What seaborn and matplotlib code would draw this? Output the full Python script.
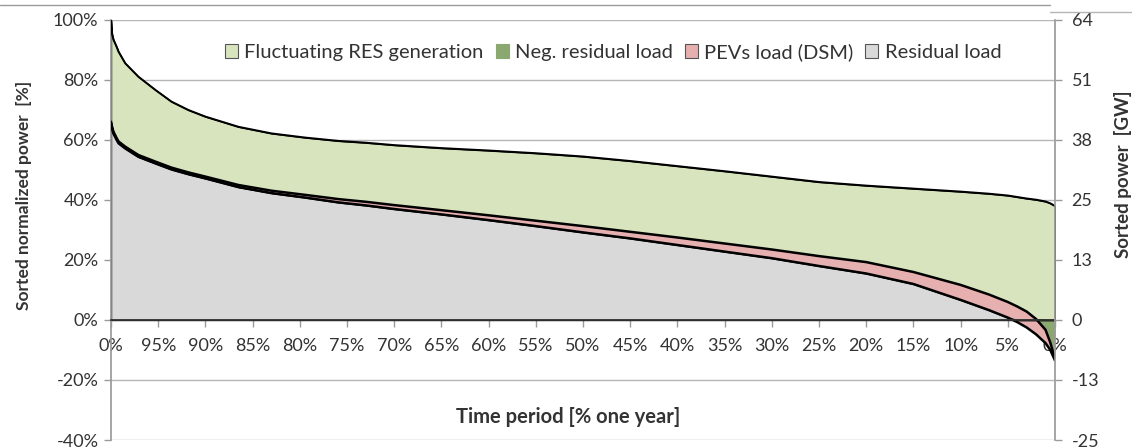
import numpy as np
import pandas as pd
import matplotlib
matplotlib.use("Agg")
import matplotlib.pyplot as plt
import seaborn as sns
from matplotlib.patches import Patch
from matplotlib.lines import Line2D

# ---------------- data ----------------
# time position [% of one year], left (100) -> right (0)
time_pct = [100, 99.9, 99.75, 99.4, 99.2, 98.5, 97.1, 95.3, 93.6, 91.8, 90, 86.5, 83, 79.4,
            75.9, 73, 70, 65, 60, 55, 50, 45, 40, 35, 30, 25, 20, 15, 10, 7, 5, 4, 3, 2, 1, 0.5, 0]
# top curve: residual load + PEV + fluctuating RES generation [%]
total_gen = [100, 95.5, 93.5, 91, 89.4, 85.6, 81.1, 76.7, 72.8, 70, 67.8, 64.4, 62.2, 60.8,
             59.7, 59.1, 58.3, 57.3, 56.5, 55.6, 54.5, 53, 51.3, 49.6, 47.8, 46, 44.8, 43.8,
             42.8, 42.1, 41.5, 41, 40.5, 40.1, 39.5, 38.9, 38]
# residual load + PEV load (DSM) [%]
pev_top = [66.1, 64.5, 62.8, 60.6, 59.5, 57.8, 55, 52.8, 50.8, 49.2, 47.8, 45, 43.1, 41.7,
           40.3, 39.4, 38.3, 36.6, 34.9, 33.1, 31.3, 29.4, 27.5, 25.5, 23.5, 21.3, 19.3, 16,
           11.7, 8.5, 6, 4.5, 2.8, 0.3, -3.3, -7.5, -13]
# residual load [%]
residual = [65.5, 63.9, 62.2, 60, 58.9, 57.2, 54.4, 52.2, 50.2, 48.6, 47.2, 44.3, 42.3, 40.8,
            39.2, 38.2, 37, 35.2, 33.3, 31.3, 29.2, 27.2, 25, 22.8, 20.6, 18, 15.5, 12,
            6.7, 3.3, 0.8, -0.7, -2.5, -4.8, -7.7, -10, -13.5]

series_names = ["Fluctuating RES generation", "Neg. residual load", "PEVs load (DSM)", "Residual load"]
series_colors = ["#d7e4bd", "#8aa86f", "#e6b0b0", "#d9d9d9"]

x_ticks = [100, 95, 90, 85, 80, 75, 70, 65, 60, 55, 50, 45, 40, 35, 30, 25, 20, 15, 10, 5, 0]
x_tick_labels = ["0%", "95%", "90%", "85%", "80%", "75%", "70%", "65%", "60%", "55%", "50%",
                 "45%", "40%", "35%", "30%", "25%", "20%", "15%", "10%", "5%", "0%"]
y_ticks = [-40, -20, 0, 20, 40, 60, 80, 100]
y_tick_labels = ["-40%", "-20%", "0%", "20%", "40%", "60%", "80%", "100%"]
y2_tick_labels = ["-25", "-13", "0", "13", "25", "38", "51", "64"]

# ---------------- styling ----------------
sns.set_theme(style="white")
plt.rcParams["font.family"] = ["Lato", "DejaVu Sans"]
txt = "#333333"

df = pd.DataFrame({"time": time_pct, "total": total_gen, "pev": pev_top, "res": residual})
x = df["time"].to_numpy()
top = df["total"].to_numpy()
pev = df["pev"].to_numpy()
res = df["res"].to_numpy()

fig = plt.figure(figsize=(11.32, 4.48), dpi=100)
ax = fig.add_axes([111 / 1132, 1 - 440 / 448, (1055 - 111) / 1132, 420 / 448])

# grid
for yv in y_ticks:
    if yv != 0:
        ax.axhline(yv, color="#b5b5b5", lw=1.0, zorder=0)

# filled areas
ax.fill_between(x, np.maximum(pev, 0), top, color=series_colors[0], edgecolor="black", lw=1.0, zorder=1)
ax.fill_between(x, np.minimum(pev, 0), 0, color=series_colors[1], lw=0, zorder=1)
ax.fill_between(x, res, pev, color=series_colors[2], lw=0, zorder=2)
ax.fill_between(x, 0, np.maximum(res, 0), color=series_colors[3], edgecolor="black", lw=1.0, zorder=2)

# outline curves
sns.lineplot(data=df, x="time", y="total", ax=ax, color="black", lw=1.4, zorder=4, sort=False)
sns.lineplot(data=df, x="time", y="pev", ax=ax, color="black", lw=1.8, zorder=4, sort=False)
sns.lineplot(data=df, x="time", y="res", ax=ax, color="black", lw=1.8, zorder=4, sort=False)

ax.set_xlim(100, 0)
ax.set_ylim(-40, 100)

# axes / spines
ax.spines["top"].set_visible(False)
ax.spines["right"].set_visible(False)
ax.spines["left"].set_color("#9a9a9a")
ax.spines["bottom"].set_position(("data", 0))
ax.spines["bottom"].set_color("#333333")
ax.spines["bottom"].set_linewidth(1.3)
ax.spines["bottom"].set_zorder(5)

ax.set_xticks(x_ticks)
ax.set_xticklabels(x_tick_labels)
ax.set_yticks(y_ticks)
ax.set_yticklabels(y_tick_labels)
ax.tick_params(axis="x", direction="out", length=5, width=1, color="#9a9a9a", pad=8,
               labelsize=13, labelcolor=txt, bottom=True)
ax.tick_params(axis="y", direction="out", length=5, width=1, color="#9a9a9a", pad=4,
               labelsize=13, labelcolor=txt, left=True)

ax.set_xlabel("Time period [% one year]", fontsize=14.5, fontweight="bold", color=txt)
ax.xaxis.set_label_coords(0.484, 0.079)
ax.set_ylabel("Sorted normalized power  [%]", fontsize=12.5, fontweight="bold", color=txt)
ax.yaxis.set_label_coords(-0.084, 0.583)

# secondary axis
ax2 = ax.twinx()
ax2.set_ylim(-40, 100)
ax2.set_yticks(y_ticks)
ax2.set_yticklabels(y2_tick_labels)
for s in ["top", "left", "bottom"]:
    ax2.spines[s].set_visible(False)
ax2.spines["right"].set_color("#9a9a9a")
ax2.tick_params(axis="y", direction="out", length=5, width=1, color="#9a9a9a", pad=7,
                labelsize=13, labelcolor=txt, right=True)
ax2.set_ylabel("Sorted power  [GW]", fontsize=13.5, fontweight="bold", color=txt)
ax2.yaxis.set_label_coords(1.0625, 0.633)

# legend
handles = [Patch(facecolor=c, edgecolor="#555555", lw=0.8) for c in series_colors]
handles[1] = Patch(facecolor=series_colors[1], edgecolor=series_colors[1], lw=0.8)
leg = ax.legend(handles, series_names, loc="center", bbox_to_anchor=(0.532, 0.924), ncol=4,
                frameon=False, fontsize=14.5, handlelength=0.65, handleheight=0.65,
                handletextpad=0.3, columnspacing=0.6, labelcolor=txt)

# page rules above the chart
fig.add_artist(Line2D([0, 1050 / 1132], [1 - 5 / 448, 1 - 5 / 448], color="#9a9a9a", lw=1))
fig.add_artist(Line2D([1050 / 1132, 1], [1 - 12 / 448, 1 - 12 / 448], color="#b5b5b5", lw=1))

fig.savefig("out.png", dpi=100)
